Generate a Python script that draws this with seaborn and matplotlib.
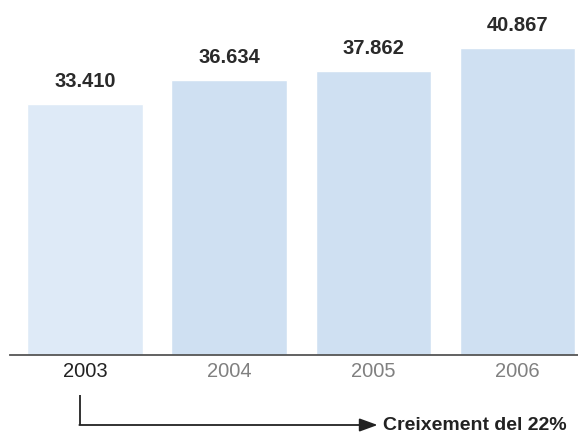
import matplotlib
matplotlib.use("Agg")
import matplotlib.pyplot as plt
import seaborn as sns
import pandas as pd

# --- DATA ---
years = ["2003", "2004", "2005", "2006"]
values = [33410, 36634, 37862, 40867]
value_labels = ["33.410", "36.634", "37.862", "40.867"]
bar_colors = ["#deeaf7", "#cfe0f2", "#cfe0f2", "#cfe0f2"]
year_colors = ["#222222", "#808080", "#808080", "#808080"]
growth_text = "Creixement del 22%"

sns.set_theme(style="white")
plt.rcParams["font.family"] = ["Liberation Sans", "DejaVu Sans"]

df = pd.DataFrame({"year": years, "value": values})

fig = plt.figure(figsize=(5.78, 4.34), dpi=100)
ax = fig.add_axes([10 / 578, 79 / 434, 568 / 578, 355 / 434])

sns.barplot(data=df, x="year", y="value", hue="year", palette=bar_colors,
            legend=False, width=0.8, saturation=1, ax=ax)

ax.set_xlim(-0.52, 3.42)
ax.set_ylim(0, 47270)

# value labels above bars
for i, (v, lab) in enumerate(zip(values, value_labels)):
    ax.annotate(lab, xy=(i, v), xytext=(0, 12), textcoords="offset points",
                ha="center", va="baseline", fontsize=14.5, fontweight="bold",
                color="#2a2a2a")

# axes styling
for side in ["top", "right", "left"]:
    ax.spines[side].set_visible(False)
ax.spines["bottom"].set_color("#555555")
ax.spines["bottom"].set_linewidth(1.3)
ax.set_yticks([])
ax.set_xlabel("")
ax.set_ylabel("")
ax.tick_params(axis="x", length=0, pad=5, labelsize=14.5)
for lbl, c in zip(ax.get_xticklabels(), year_colors):
    lbl.set_color(c)

# growth arrow below the axis
y_top = -(395 - 355) / 7.51 * 1000
y_line = -(425 - 355) / 7.51 * 1000
x_start = -0.035
x_tip = 2.03
ax.plot([x_start, x_start], [y_top, y_line], color="#222222", lw=1.3,
        clip_on=False, solid_capstyle="butt")
ax.annotate("", xy=(x_tip, y_line), xytext=(x_start - 0.004, y_line),
            arrowprops=dict(arrowstyle="-|>,head_length=0.55,head_width=0.2",
                            color="#222222", lw=1.3,
                            mutation_scale=20, shrinkA=0, shrinkB=0),
            annotation_clip=False)
ax.text(x_tip + 0.04, y_line, growth_text, ha="left", va="center",
        fontsize=14, fontweight="bold", color="#222222", clip_on=False)

fig.savefig("out.png", dpi=100, facecolor="white")
